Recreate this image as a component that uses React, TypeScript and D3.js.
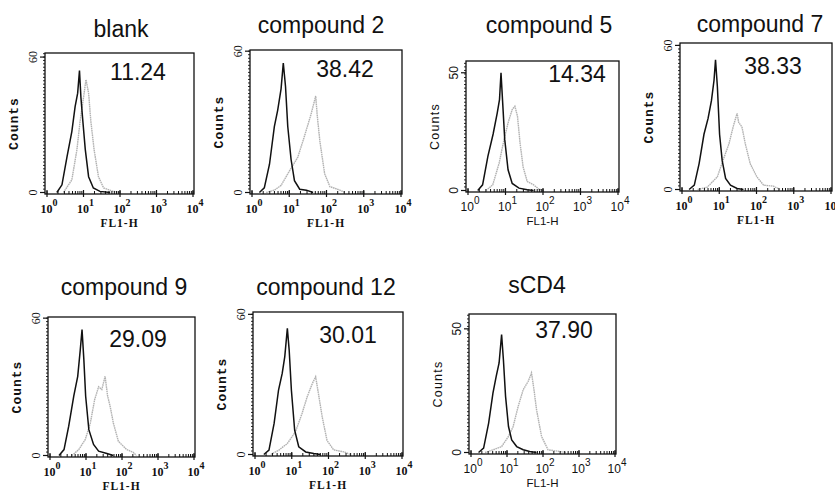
import React from 'react'
import * as d3 from 'd3'

// histogram data: [FL1-H intensity, counts]
const blankBlack = [[1.86, 0], [2.57, 3.4], [3.55, 16], [4.79, 27], [5.89, 38], [6.92, 44], [7.76, 54], [8.51, 42], [9.55, 32], [11.2, 19], [13.8, 7], [18.6, 2], [28.2, 0.5], [53.7, 0]]
const blankGray = [[2.82, 0], [4.79, 5.6], [6.61, 19], [8.13, 32], [10, 42], [11.7, 50], [13.8, 44], [15.8, 32], [19.5, 19], [25.7, 7], [35.5, 2], [66.1, 0.5], [100, 0]]
const c2Black = [[1.58, 0], [2.14, 2], [2.95, 12], [3.98, 28], [4.9, 35], [6.03, 44], [6.92, 55], [7.94, 45], [9.12, 28], [11.2, 14], [13.8, 5], [19.1, 1.4], [28.8, 1], [43.7, 0]]
const c2Gray = [[2.4, 0], [3.98, 1], [6.03, 3], [10, 9], [17, 15], [25.7, 24], [38.9, 33.5], [51.3, 41], [56.2, 33], [66.1, 22], [89.1, 8], [123, 2.5], [229, 1], [316, 0]]
const c5Black = [[1.82, 0], [2.45, 2.4], [3.39, 14.5], [4.68, 24], [6.03, 33], [6.92, 38.6], [7.59, 50], [8.32, 38.6], [9.55, 21.6], [11.7, 8.8], [15.1, 3], [22.9, 1], [38, 0.3], [56.2, 0]]
const c5Gray = [[3.02, 0], [4.57, 2.4], [6.76, 11.6], [9.12, 21.6], [11.7, 28.7], [15.1, 34.4], [17.8, 35.8], [20.9, 31.5], [24.5, 20], [29.5, 10], [38, 3.8], [56.2, 2.4], [77.6, 0.6], [105, 0]]
const c7Black = [[1.55, 0], [2.14, 1.8], [2.88, 10.8], [3.89, 23], [5.01, 29.6], [6.17, 37], [7.24, 45.5], [7.94, 54], [8.91, 42.8], [10.2, 23], [12, 12], [14.8, 4.6], [20, 1.8], [30.2, 0.4], [44.7, 0]]
const c7Gray = [[2.63, 0], [4.79, 1], [8.91, 5.3], [13.2, 13], [18.2, 19], [24.5, 27], [30.2, 31.7], [33.1, 28], [40.7, 26], [50.1, 19], [67.6, 10.8], [102, 5.3], [155, 1.8], [282, 1.4], [427, 0]]
const c9Black = [[1.78, 0], [2.45, 2.6], [3.31, 12.8], [4.57, 25.9], [5.89, 34.6], [6.92, 46], [7.76, 55], [8.71, 42], [9.77, 26], [12, 11.3], [16.2, 4.8], [22.4, 1.9], [38, 0.9], [57.5, 0]]
const c9Gray = [[4.07, 0], [6.31, 2.6], [9.55, 7], [13.2, 14.2], [17.4, 24.4], [22.4, 30], [27.5, 28.8], [33.9, 34.6], [39.8, 26], [46.8, 21.5], [57.5, 14.2], [79.4, 6.2], [135, 2.6], [204, 1.4], [251, 0]]
const c12Black = [[1.74, 0], [2.4, 1.9], [3.31, 13.3], [4.37, 27.6], [5.5, 34.7], [6.46, 41.9], [7.59, 54], [8.51, 44.7], [9.77, 27.6], [12, 10.4], [15.5, 3.3], [24, 1.1], [39.8, 0.4], [60.3, 0]]
const c12Gray = [[2.69, 0], [4.47, 1.9], [7.59, 4.7], [12.6, 9.7], [19.1, 17.6], [26.3, 24.7], [36.3, 30.4], [44.7, 33.3], [51.3, 27.6], [67.6, 16], [91.2, 6], [138, 2], [263, 1.1], [398, 0]]
const cd4Black = [[1.62, 0], [2.24, 1.8], [3.09, 11.9], [4.07, 24], [5.01, 30.8], [6.03, 36.2], [7.08, 47.7], [7.94, 37.6], [9.12, 22.7], [11, 10.5], [13.5, 5.1], [18.6, 2.4], [28.2, 1.1], [42.7, 0.4], [66.1, 0]]
const cd4Gray = [[2.45, 0], [4.17, 1.1], [7.08, 2.4], [11, 6.5], [14.8, 10.5], [20.4, 18.6], [28.2, 25.4], [38.9, 28.8], [47.9, 32.2], [56.2, 25.4], [66.1, 17.3], [91.2, 6.5], [138, 1.1], [288, 0.4], [437, 0]]

const titles = ['blank', 'compound 2', 'compound 5', 'compound 7', 'compound 9', 'compound 12', 'sCD4']
const percents = ['11.24', '38.42', '14.34', '38.33', '29.09', '30.01', '37.90']
const yTopTick = [60, 60, 50, 60, 60, 60, 50]
const yMax = [61.8, 60.5, 55, 61, 60.5, 61, 56]
const series = [
  [blankBlack, blankGray], [c2Black, c2Gray], [c5Black, c5Gray], [c7Black, c7Gray],
  [c9Black, c9Gray], [c12Black, c12Gray], [cd4Black, cd4Gray]
]
const decades = [0, 1, 2, 3, 4]

// layout: frame box, title / number anchors, font style
const layout = [
  { l: 45, t: 53, r: 194, b: 194, tx: 121, ty: 37, nx: 138, ny: 80, sans: false },
  { l: 250, t: 50, r: 402, b: 194, tx: 321, ty: 33, nx: 345, ny: 77, sans: false },
  { l: 466, t: 61, r: 619, b: 192, tx: 549, ty: 33, nx: 577, ny: 82, sans: true },
  { l: 680, t: 43, r: 832, b: 191, tx: 760, ty: 32, nx: 773, ny: 74, sans: false },
  { l: 48, t: 317, r: 195, b: 457, tx: 124, ty: 295, nx: 138, ny: 347, sans: false },
  { l: 253, t: 312, r: 403, b: 456, tx: 326, ty: 295, nx: 348, ny: 343, sans: false },
  { l: 469, t: 314, r: 616, b: 454, tx: 537, ty: 293, nx: 564, ny: 338, sans: true }
]

const Panel = ({ i }: { i: number }) => {
  const c = layout[i]
  const [black, gray] = series[i]
  const x = d3.scaleLog().domain([1, 10000]).range([c.l + 2, c.r - 1])
  const y = d3.scaleLinear().domain([0, yMax[i]]).range([c.b - 1.5, c.t])
  const line = d3
    .line<number[]>()
    .x((d) => x(d[0]))
    .y((d) => y(d[1]))
    .curve(d3.curveLinear)
  const serif = 'Liberation Serif, serif'
  const sans = 'Liberation Sans, Arial, sans-serif'
  const tickFont = c.sans ? sans : serif
  const minor = x.ticks()
  const yMinor = d3.range(0, yMax[i], 1.5)
  const midY = (c.t + c.b) / 2
  return (
    <g>
      <text x={c.tx} y={c.ty} textAnchor="middle" fontFamily={sans} fontSize={23} fill="#111">
        {titles[i]}
      </text>
      <text x={c.nx} y={c.ny} textAnchor="middle" fontFamily={sans} fontSize={23} fill="#111">
        {percents[i]}
      </text>
      {/* histograms */}
      <path d={line(gray as number[][]) || ''} fill="none" stroke="#b2b2b2" strokeWidth={1.4} strokeDasharray="1.6 0.6" />
      <path d={line(black as number[][]) || ''} fill="none" stroke="#111" strokeWidth={1.5} />
      {/* frame */}
      <rect x={c.l} y={c.t} width={c.r - c.l} height={c.b - c.t} fill="none" stroke="#111" strokeWidth={1.3} />
      {/* bottom ticks */}
      {minor.map((v, k) => (
        <line key={'m' + k} x1={x(v)} x2={x(v)} y1={c.b} y2={c.b - 3} stroke="#111" strokeWidth={1} />
      ))}
      {decades.map((d) => (
        <line key={'M' + d} x1={x(10 ** d)} x2={x(10 ** d)} y1={c.b + 3} y2={c.b - 4} stroke="#111" strokeWidth={1.2} />
      ))}
      {decades.map((d) => (
        <text key={'t' + d} x={x(10 ** d) + 2} y={c.b + 19} textAnchor="middle" fontFamily={tickFont} fontWeight={c.sans ? 400 : 700} fontSize={12} fill="#111">
          10<tspan dy={-7} fontSize={10}>{d}</tspan>
        </text>
      ))}
      {/* left ticks */}
      {yMinor.map((v, k) => (
        <line key={'y' + k} x1={c.l} x2={c.l - 2} y1={y(v)} y2={y(v)} stroke="#111" strokeWidth={0.9} />
      ))}
      {[0, yTopTick[i]].map((v) => (
        <g key={'yl' + v}>
          <line x1={c.l} x2={c.l - 5} y1={y(v)} y2={y(v)} stroke="#111" strokeWidth={1.2} />
          <text transform={`translate(${c.l - 8},${y(v)}) rotate(-90)`} textAnchor="middle" fontFamily={tickFont} fontSize={12} fill="#111">
            {v}
          </text>
        </g>
      ))}
      {/* axis titles */}
      <text x={(c.l + c.r) / 2} y={c.b + 33} textAnchor="middle" fontFamily={c.sans ? sans : serif} fontWeight={c.sans ? 400 : 700} fontSize={c.sans ? 11.5 : 11.5} letterSpacing={c.sans ? 0 : 1} fill="#111">
        FL1-H
      </text>
      <text transform={`translate(${c.l - 27},${midY}) rotate(-90)`} textAnchor="middle" fontFamily={c.sans ? sans : 'Liberation Mono, monospace'} fontWeight={c.sans ? 400 : 700} fontSize={c.sans ? 12.5 : 13} letterSpacing={c.sans ? 1.2 : 1} fill="#111">
        Counts
      </text>
    </g>
  )
}

export default function App() {
  return (
    <svg width={835} height={503} style={{ position: 'absolute', left: 0, top: 0, background: '#fff' }}>
      <rect width={835} height={503} fill="#fff" />
      {titles.map((t, i) => (
        <Panel key={t} i={i} />
      ))}
    </svg>
  )
}
